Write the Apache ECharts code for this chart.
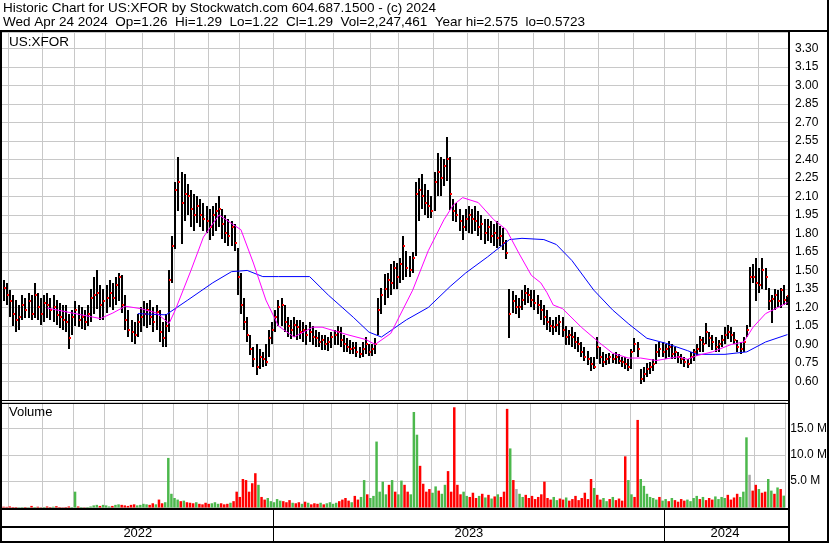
<!DOCTYPE html>
<html><head><meta charset="utf-8">
<script src="https://cdn.jsdelivr.net/npm/echarts/dist/echarts.min.js"></script>
<style>html,body{margin:0;padding:0;background:#fff}#c{width:830px;height:543px}</style>
</head><body><div id="c"></div>
<script>
// ---------- text ----------
const TITLE_1 = 'Historic Chart for US:XFOR by Stockwatch.com 604.687.1500 - (c) 2024';
const TITLE_2 = 'Wed Apr 24 2024  Op=1.26  Hi=1.29  Lo=1.22  Cl=1.29  Vol=2,247,461  Year hi=2.575  lo=0.5723';
const SYMBOL = 'US:XFOR';
const VOL_LABEL = 'Volume';

// ---------- calendar (trading sessions, each bar = 2 sessions) ----------
const START = '2022-04-25', END = '2024-04-24';
const HOLIDAYS = ['2022-05-30','2022-06-20','2022-07-04','2022-09-05','2022-11-24','2022-12-26',
 '2023-01-02','2023-01-16','2023-02-20','2023-04-07','2023-05-29','2023-06-19','2023-07-04','2023-09-04','2023-11-23','2023-12-25',
 '2024-01-01','2024-01-15','2024-02-19','2024-03-29'];

// ---------- price bars ----------
const HIGH = [
1.42,1.40,1.34,1.30,1.26,1.22,1.30,1.28,1.32,1.30,
1.40,1.32,1.28,1.30,1.32,1.28,1.30,1.26,1.24,1.22,
1.22,1.15,1.18,1.25,1.22,1.20,1.18,1.22,1.35,1.45,
1.50,1.38,1.35,1.38,1.42,1.40,1.45,1.48,1.46,1.30,
1.18,1.10,1.08,1.15,1.20,1.25,1.24,1.26,1.20,1.22,
1.18,1.08,1.15,1.50,1.78,2.22,2.42,2.30,2.28,2.20,
2.15,2.12,2.10,2.08,2.05,2.02,2.00,2.02,2.05,2.10,
2.00,1.95,1.92,1.90,1.88,1.68,1.48,1.28,1.12,0.98,
0.88,0.90,0.86,0.84,0.90,1.02,1.08,1.18,1.26,1.28,
1.22,1.12,1.10,1.12,1.10,1.10,1.08,1.06,1.08,1.05,
1.02,1.00,0.98,0.98,0.96,1.00,1.02,1.05,1.04,0.98,
0.95,0.94,0.92,0.92,0.88,0.92,0.96,0.90,0.90,0.95,
1.28,1.36,1.47,1.48,1.55,1.58,1.56,1.60,1.78,1.66,
1.62,1.65,2.22,2.25,2.28,2.20,2.15,2.10,2.30,2.45,
2.42,2.40,2.58,2.42,2.08,2.05,2.00,1.95,2.00,2.02,
2.00,2.02,1.98,1.95,1.92,1.92,1.90,1.88,1.90,1.86,
1.84,1.75,1.35,1.33,1.30,1.28,1.34,1.38,1.36,1.34,
1.34,1.30,1.26,1.22,1.18,1.12,1.10,1.12,1.14,1.12,
1.05,1.02,1.04,1.00,0.96,0.92,0.88,0.85,0.80,0.80,
0.96,0.88,0.84,0.82,0.83,0.82,0.84,0.82,0.80,0.80,
0.78,0.86,0.95,0.92,0.70,0.72,0.75,0.76,0.78,0.90,
0.92,0.92,0.90,0.93,0.90,0.88,0.84,0.82,0.80,0.78,
0.84,0.86,0.90,0.97,0.96,1.07,1.00,0.98,0.96,0.94,
0.98,1.04,1.06,1.04,1.00,0.94,0.92,0.96,1.06,1.53,
1.55,1.60,1.52,1.60,1.52,1.36,1.30,1.35,1.34,1.36,1.38,1.29];
const LOW = [
1.25,1.22,1.12,1.05,1.00,1.02,1.10,1.12,1.12,1.10,
1.12,1.10,1.06,1.08,1.12,1.10,1.08,1.06,1.04,1.02,
1.00,0.87,0.98,1.05,1.04,1.02,1.02,1.05,1.08,1.15,
1.18,1.10,1.10,1.15,1.20,1.18,1.22,1.25,1.15,1.02,
0.96,0.92,0.90,0.96,1.00,1.05,1.04,1.06,1.00,1.02,
0.92,0.88,0.88,1.00,1.40,1.68,1.98,1.72,1.90,1.95,
1.85,1.82,1.88,1.85,1.82,1.80,1.75,1.78,1.82,1.85,
1.76,1.72,1.70,1.70,1.66,1.30,1.15,1.02,0.92,0.82,
0.72,0.65,0.70,0.72,0.72,0.80,0.90,1.00,1.05,1.05,
1.00,0.96,0.95,0.96,0.94,0.95,0.92,0.90,0.92,0.90,
0.88,0.88,0.86,0.86,0.85,0.87,0.90,0.90,0.88,0.84,
0.84,0.83,0.82,0.80,0.79,0.80,0.82,0.80,0.80,0.82,
0.98,1.15,1.22,1.28,1.30,1.35,1.35,1.40,1.42,1.45,
1.45,1.48,1.62,1.90,2.00,1.95,1.92,1.92,1.98,2.10,
2.10,2.18,2.22,1.99,1.90,1.90,1.82,1.75,1.82,1.80,
1.80,1.82,1.78,1.75,1.72,1.74,1.72,1.70,1.68,1.70,
1.66,1.60,0.95,1.15,1.15,1.12,1.18,1.22,1.24,1.20,
1.18,1.15,1.10,1.06,1.02,1.00,0.98,1.00,0.98,0.96,
0.90,0.90,0.88,0.86,0.84,0.80,0.77,0.74,0.69,0.70,
0.78,0.74,0.72,0.73,0.74,0.75,0.74,0.74,0.72,0.70,
0.68,0.70,0.84,0.80,0.58,0.60,0.64,0.66,0.68,0.74,
0.80,0.80,0.78,0.80,0.78,0.78,0.75,0.74,0.72,0.71,
0.74,0.76,0.80,0.84,0.84,0.90,0.88,0.86,0.84,0.84,
0.88,0.90,0.95,0.92,0.90,0.84,0.82,0.84,0.96,1.04,
1.40,1.25,1.32,1.35,1.34,1.18,1.07,1.18,1.20,1.20,1.22,1.22];
const CLOSE = [
1.36,1.30,1.25,1.15,1.10,1.12,1.22,1.18,1.25,1.15,
1.30,1.20,1.15,1.24,1.22,1.18,1.20,1.14,1.12,1.10,
1.08,0.95,1.12,1.18,1.10,1.12,1.08,1.15,1.28,1.30,
1.32,1.22,1.25,1.28,1.32,1.28,1.38,1.45,1.22,1.10,
1.02,1.00,0.98,1.08,1.12,1.15,1.18,1.12,1.08,1.16,
1.00,0.95,1.05,1.42,1.70,2.15,2.22,2.05,2.12,2.10,
2.00,1.95,2.02,1.95,1.92,1.90,1.85,1.95,1.98,2.00,
1.88,1.80,1.78,1.85,1.72,1.45,1.22,1.08,0.98,0.86,
0.78,0.72,0.80,0.78,0.76,0.95,1.02,1.12,1.20,1.22,
1.08,1.05,1.02,1.06,1.04,1.00,1.02,0.98,1.00,0.96,
0.95,0.92,0.94,0.90,0.92,0.96,0.98,1.00,0.94,0.90,
0.88,0.86,0.87,0.84,0.82,0.86,0.90,0.84,0.86,0.90,
1.18,1.30,1.35,1.42,1.40,1.52,1.45,1.55,1.70,1.52,
1.50,1.60,2.12,2.15,2.10,2.05,2.02,1.98,2.22,2.30,
2.25,2.35,2.40,2.12,1.98,1.95,1.90,1.85,1.92,1.95,
1.92,1.90,1.85,1.88,1.80,1.85,1.78,1.80,1.76,1.78,
1.72,1.64,1.15,1.25,1.20,1.20,1.26,1.32,1.30,1.26,
1.24,1.22,1.18,1.12,1.08,1.05,1.04,1.06,1.08,1.02,
0.96,0.98,0.96,0.92,0.90,0.84,0.80,0.78,0.74,0.72,
0.88,0.80,0.76,0.78,0.80,0.78,0.80,0.77,0.76,0.74,
0.72,0.84,0.90,0.86,0.62,0.66,0.70,0.72,0.74,0.84,
0.86,0.84,0.86,0.88,0.82,0.84,0.80,0.78,0.76,0.74,
0.80,0.84,0.86,0.94,0.90,1.00,0.95,0.92,0.88,0.90,
0.94,0.98,1.00,0.98,0.94,0.88,0.86,0.92,1.02,1.45,
1.45,1.40,1.38,1.50,1.45,1.25,1.27,1.30,1.25,1.34,1.26,1.29];
// volume in millions of shares
const VOLUME_M = [
0.15,0.12,0.2,0.1,0.1,0.05,0.08,0.1,0.05,0.3,
0.1,0.15,0.05,0.1,0.2,0.1,0.15,0.25,0.1,0.05,
0.1,0.2,0.1,3.0,0.2,0.1,0.05,0.1,0.2,0.4,
0.5,0.3,0.5,0.4,0.2,0.3,0.5,0.6,0.5,0.4,
0.3,0.5,0.6,0.4,0.5,0.7,0.6,0.5,0.8,0.6,
1.5,0.8,1.0,9.4,2.6,1.8,1.5,1.2,1.3,1.0,
0.9,0.8,1.0,0.7,0.6,0.9,0.7,0.8,1.0,0.7,
0.8,0.6,0.7,0.9,1.2,3.0,2.0,5.4,5.2,3.0,
4.6,6.5,4.3,2.0,1.5,1.8,1.2,1.0,1.6,1.3,
1.2,1.0,1.4,0.9,0.8,1.0,0.7,1.1,0.9,0.6,
0.8,0.7,0.9,0.6,0.8,1.0,0.7,0.9,1.2,1.5,
1.8,1.3,1.0,2.2,1.5,2.0,5.2,2.5,1.8,2.2,
12.5,3.0,4.9,2.5,4.3,5.2,3.0,2.5,5.1,4.3,
3.0,2.5,18.1,13.8,7.9,4.5,3.0,3.5,2.8,4.0,
3.2,2.6,4.3,6.9,3.0,19.0,4.3,2.5,3.0,2.2,
2.0,2.8,1.8,2.2,2.6,1.9,2.4,1.7,2.1,2.5,
2.0,3.0,18.7,11.2,5.2,3.5,2.6,2.0,2.4,1.8,
2.2,1.6,2.0,2.5,4.9,1.8,1.5,2.0,1.4,1.7,
1.5,1.9,1.3,1.6,2.2,1.4,1.8,2.8,1.6,5.4,
3.7,2.4,1.5,1.8,1.2,1.6,2.0,1.4,1.7,1.3,
9.7,5.2,2.5,2.0,16.6,5.4,4.1,2.6,2.0,1.8,
1.5,2.0,1.3,1.6,1.2,1.8,1.4,1.1,1.6,1.3,
1.5,1.2,1.8,2.2,1.6,2.0,1.4,1.8,1.5,2.1,
1.6,2.0,1.8,2.4,1.5,1.9,2.6,2.0,3.0,13.3,
6.2,3.2,4.3,3.5,2.8,3.0,5.4,3.2,2.6,3.8,3.5,2.25];
// moving averages: [bar index, price]
const MA_SHORT = [[14,1.195],[21,1.16],[25,1.14],[31,1.11],[35,1.155],[39,1.21],[44,1.19],[49,1.155],[53,1.07],[55,1.18],[60,1.50],[64,1.77],[69,1.95],[73,1.88],[76,1.83],[80,1.56],[84,1.26],[88,1.05],[93,0.96],[99,1.04],[102,1.04],[110,0.98],[116,0.94],[119,0.90],[124,0.99],[131,1.34],[136,1.66],[141,1.91],[144,2.03],[147,2.09],[152,2.05],[157,1.91],[161,1.83],[165,1.64],[169,1.46],[172,1.40],[174,1.32],[176,1.22],[179,1.19],[185,1.04],[191,0.91],[195,0.83],[200,0.79],[204,0.79],[209,0.77],[216,0.80],[219,0.78],[222,0.81],[227,0.84],[233,0.90],[237,0.92],[240,1.04],[244,1.15],[248,1.20],[251,1.24]];
const MA_LONG = [[43,1.15],[52,1.14],[59,1.26],[67,1.40],[73,1.49],[78,1.50],[83,1.45],[88,1.45],[98,1.45],[104,1.30],[112,1.12],[117,1.00],[121,0.96],[129,1.10],[136,1.20],[143,1.37],[148,1.48],[155,1.61],[162,1.75],[166,1.76],[173,1.75],[177,1.71],[182,1.58],[189,1.34],[195,1.18],[200,1.07],[206,0.95],[212,0.91],[219,0.85],[222,0.82],[231,0.82],[238,0.84],[244,0.92],[251,0.98]];

// ---------- build ----------
const sessions = [];
for (let d = new Date(START + 'T00:00:00Z'); d <= new Date(END + 'T00:00:00Z'); d.setUTCDate(d.getUTCDate() + 1)) {
  const wd = d.getUTCDay(), s = d.toISOString().slice(0, 10);
  if (wd === 0 || wd === 6 || HOLIDAYS.includes(s)) continue;
  sessions.push(s);
}
const barDates = [];
for (let k = 0; k < sessions.length; k += 2) barDates.push(sessions[Math.min(k + 1, sessions.length - 1)]);
const monthStart = barDates.map((d, i) => i > 0 && d.slice(0, 7) !== barDates[i - 1].slice(0, 7));
const yearStart = barDates.map((d, i) => i > 0 && d.slice(0, 4) !== barDates[i - 1].slice(0, 4));
const yearMid = barDates.map(() => false);
(function () {
  let s = 0;
  for (let i = 1; i <= barDates.length; i++) {
    if (i === barDates.length || yearStart[i]) { yearMid[Math.floor((s + i - 1) / 2)] = true; s = i; }
  }
})();

const ohlc = HIGH.map((h, i) => [i, h, LOW[i], CLOSE[i]]);
const volData = VOLUME_M.map((v, i) => {
  const c = i === 0 ? '#ff0000' : (CLOSE[i] > CLOSE[i - 1] ? '#4cb84c' : (CLOSE[i] < CLOSE[i - 1] ? '#ff0000' : '#a8a8a8'));
  return { value: v, itemStyle: { color: c } };
});

const FONT = 'Arial, "Liberation Sans", sans-serif';
const GRID_C = '#c8c8c8';
const L = 2, R = 41;

const chart = echarts.init(document.getElementById('c'), null, { renderer: 'canvas' });
const xBase = (gi) => ({
  gridIndex: gi, type: 'category', data: barDates, boundaryGap: true,
  axisLine: { show: false }, axisTick: { show: false }, axisLabel: { show: false },
  splitLine: { show: true, interval: (i) => !!monthStart[i], lineStyle: { color: GRID_C, width: 1 } }
});
chart.setOption({
  animation: false,
  backgroundColor: '#fff',
  grid: [
    { left: L, right: R, top: 32, height: 368 },
    { left: L, right: R, top: 402, height: 105.5 },
    { left: L, right: R, top: 509, height: 34 }
  ],
  xAxis: [
    xBase(0), xBase(1),
    { gridIndex: 2, type: 'category', data: barDates, boundaryGap: true,
      axisLine: { show: false }, axisTick: { show: false },
      splitLine: { show: true, interval: (i) => !!yearStart[i], lineStyle: { color: '#000', width: 1 } },
      axisLabel: { show: true, inside: true, margin: 3, interval: (i) => !!yearMid[i],
        formatter: (v) => v.slice(0, 4), color: '#000', fontSize: 13, fontFamily: FONT } }
  ],
  yAxis: [
    { gridIndex: 0, type: 'value', position: 'right', min: 0.45, max: 3.432, interval: 0.15,
      axisLine: { show: false }, axisTick: { show: false },
      splitLine: { show: true, lineStyle: { color: GRID_C, width: 1 } },
      axisLabel: { margin: 6, color: '#000', fontSize: 12, fontFamily: FONT,
        formatter: (v) => (v < 0.59 || v > 3.31) ? '' : v.toFixed(2) } },
    { gridIndex: 1, type: 'value', position: 'right', min: 0, max: 20, interval: 5,
      axisLine: { show: false }, axisTick: { show: false },
      splitLine: { show: true, lineStyle: { color: GRID_C, width: 1 } },
      axisLabel: { margin: 5, color: '#000', fontSize: 12, fontFamily: FONT,
        formatter: (v) => (v <= 0 || v >= 20) ? '' : v.toFixed(1) + ' M' } },
    { gridIndex: 2, type: 'value', show: false }
  ],
  series: [
    { type: 'custom', xAxisIndex: 0, yAxisIndex: 0, data: ohlc, z: 3,
      encode: { x: 0, y: [1, 2, 3] },
      renderItem: function (params, api) {
        const i = api.value(0);
        const hi = api.coord([i, api.value(1)]);
        const lo = api.coord([i, api.value(2)]);
        const cl = api.coord([i, api.value(3)]);
        const x = Math.round(hi[0]);
        return { type: 'group', children: [
          { type: 'rect', shape: { x: x - 1, y: Math.round(hi[1]), width: 2, height: Math.max(1, Math.round(lo[1] - hi[1])) }, style: { fill: '#000' } },
          { type: 'rect', shape: { x: x, y: Math.round(cl[1]) - 1, width: 2, height: 2 }, style: { fill: '#ff0000' } }
        ] };
      } },
    { type: 'line', xAxisIndex: 0, yAxisIndex: 0, data: MA_LONG, symbol: 'none', z: 5,
      lineStyle: { color: '#0000ff', width: 1 }, silent: true },
    { type: 'line', xAxisIndex: 0, yAxisIndex: 0, data: MA_SHORT, symbol: 'none', z: 5,
      lineStyle: { color: '#ff00ff', width: 1 }, silent: true },
    { type: 'bar', xAxisIndex: 1, yAxisIndex: 1, data: volData, barCategoryGap: '20%', z: 3 }
  ],
  graphic: [
    { type: 'text', left: 3, top: 1, style: { text: TITLE_1, font: '13.5px ' + FONT, fill: '#000' } },
    { type: 'text', left: 3, top: 15, style: { text: TITLE_2, font: '13.5px ' + FONT, fill: '#000' } },
    { type: 'text', left: 9, top: 35, z: 10, style: { text: SYMBOL, font: '13.5px ' + FONT, fill: '#000' } },
    { type: 'text', left: 9, top: 406, z: 10, style: { text: VOL_LABEL, font: '13px ' + FONT, fill: '#000' } },
    // frame
    { type: 'rect', z: 20, shape: { x: 0, y: 30, width: 829, height: 2 }, style: { fill: '#000' } },
    { type: 'rect', z: 20, shape: { x: 0, y: 30, width: 2, height: 513 }, style: { fill: '#000' } },
    { type: 'rect', z: 20, shape: { x: 788, y: 30, width: 2, height: 513 }, style: { fill: '#000' } },
    { type: 'rect', z: 20, shape: { x: 828, y: 0, width: 2, height: 543 }, style: { fill: '#fff' } },
    { type: 'rect', z: 21, shape: { x: 827, y: 0, width: 2, height: 543 }, style: { fill: '#000' } },
    { type: 'rect', z: 20, shape: { x: 0, y: 541, width: 829, height: 2 }, style: { fill: '#000' } },
    { type: 'rect', z: 20, shape: { x: 0, y: 400, width: 789, height: 1 }, style: { fill: '#000' } },
    { type: 'rect', z: 20, shape: { x: 0, y: 403, width: 789, height: 1 }, style: { fill: '#000' } },
    { type: 'rect', z: 20, shape: { x: 0, y: 508, width: 789, height: 2 }, style: { fill: '#000' } },
    { type: 'rect', z: 20, shape: { x: 0, y: 526, width: 789, height: 2 }, style: { fill: '#000' } }
  ]
});
</script></body></html>
